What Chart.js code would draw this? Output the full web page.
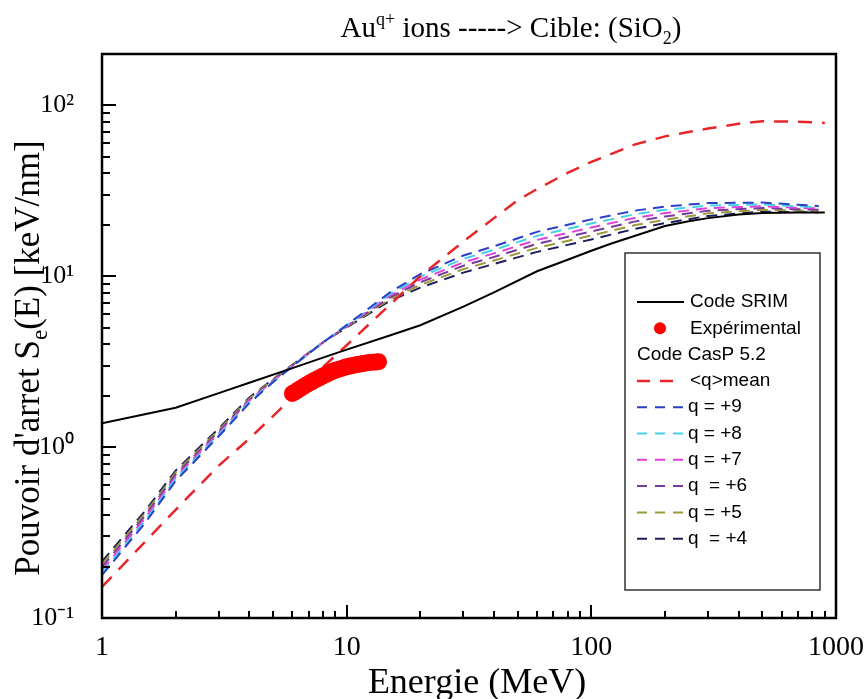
<!DOCTYPE html>
<html>
<head>
<meta charset="utf-8">
<script src="https://cdn.jsdelivr.net/npm/chart.js@4/dist/chart.umd.min.js"></script>
<style>
html,body{margin:0;padding:0;background:#fff;}
#wrap{width:868px;height:699px;position:relative;}
</style>
</head>
<body>
<div id="wrap"><canvas id="c" width="868" height="699"></canvas></div>
<script>
// ---------- DATA ----------
const xTickValues = [1, 10, 100, 1000];
const xTickLabels = ['1', '10', '100', '1000'];
const yTickValues = [0.1, 1, 10, 100];
const yTickLabels = ['10\u207B\u00B9', '10\u2070', '10\u00B9', '10\u00B2'];

const xAxisTitle = 'Energie (MeV)';
const legendHeader = 'Code CasP 5.2';

// SRIM (solid black)
const energySRIM = [1, 2, 3, 4, 6, 8, 10, 15, 20, 30, 40, 60, 80, 100, 120, 150, 200, 250, 300, 400, 500, 700, 900];
const seSRIM     = [1.38, 1.70, 2.07, 2.38, 2.90, 3.34, 3.72, 4.5, 5.17, 6.65, 8.06, 10.7, 12.5, 14.1, 15.5, 17.2, 19.7, 21.0, 21.9, 23.0, 23.5, 23.6, 23.6];

// Experimental (red dots)
const energyExp = [6.0, 6.2, 6.4, 6.6, 6.8, 7.0, 7.2, 7.4, 7.6, 7.8, 8.0, 8.2, 8.4, 8.6, 8.8, 9.0, 9.3, 9.6, 9.9, 10.2, 10.5, 10.8, 11.1, 11.4, 11.7, 12.0, 12.4, 12.8, 13.2, 13.5];
const seExp     = [2.06, 2.12, 2.18, 2.24, 2.30, 2.36, 2.41, 2.46, 2.51, 2.56, 2.61, 2.65, 2.70, 2.74, 2.78, 2.82, 2.86, 2.90, 2.94, 2.97, 3.00, 3.03, 3.05, 3.07, 3.09, 3.11, 3.13, 3.14, 3.15, 3.16];

// CasP <q>mean (red dashed)
const energyMean = [1, 2, 3, 4, 5, 6, 8, 10, 15, 20, 30, 40, 50, 60, 80, 100, 150, 200, 300, 400, 500, 700, 900];
const seMean     = [0.152, 0.43, 0.78, 1.12, 1.52, 1.95, 2.94, 3.95, 6.8, 10.0, 16.0, 21.9, 27.9, 32.4, 40.3, 46.7, 59.0, 65.9, 73.2, 78.1, 80.8, 80.3, 79.0];

// CasP fixed charge states
const energyQ = [1, 1.5, 2, 3, 4, 5, 6, 8, 10, 15, 20, 30, 40, 60, 100, 150, 200, 300, 500, 850];
const seQ9 = [0.178, 0.360, 0.634, 1.158, 1.81, 2.40, 2.97, 4.1, 5.18, 8.04, 10.29, 13.24, 14.99, 18.20, 21.53, 24.20, 25.60, 26.84, 27.00, 25.79];
const seQ8 = [0.184, 0.371, 0.652, 1.182, 1.84, 2.42, 2.98, 4.1, 5.15, 7.86, 9.93, 12.65, 14.28, 17.24, 20.38, 23.05, 24.48, 25.93, 26.34, 25.34];
const seQ7 = [0.191, 0.384, 0.670, 1.207, 1.87, 2.44, 2.99, 4.1, 5.12, 7.69, 9.57, 12.07, 13.62, 16.33, 19.31, 21.94, 23.43, 25.04, 25.71, 24.92];
const seQ6 = [0.199, 0.396, 0.690, 1.233, 1.89, 2.46, 3.01, 4.1, 5.08, 7.52, 9.23, 11.53, 12.98, 15.47, 18.29, 20.89, 22.40, 24.18, 25.10, 24.48];
const seQ5 = [0.206, 0.410, 0.709, 1.259, 1.92, 2.48, 3.02, 4.1, 5.05, 7.35, 8.90, 11.01, 12.38, 14.66, 17.33, 19.88, 21.41, 23.35, 24.49, 24.06];
const seQ4 = [0.214, 0.423, 0.729, 1.286, 1.95, 2.50, 3.03, 4.1, 5.02, 7.18, 8.58, 10.51, 11.80, 13.90, 16.43, 18.92, 20.47, 22.56, 23.90, 23.66];

// ---------- BUILD ----------
const pts = (xs, ys) => xs.map((v, i) => ({x: v, y: ys[i]}));
const SERIF = '"Liberation Serif", "Times New Roman", serif';
const SANS = '"Liberation Sans", Arial, sans-serif';

const qSeries = [
  {label: 'q = +9', data: seQ9, color: '#2b3fc8'},
  {label: 'q = +8', data: seQ8, color: '#45d2e4'},
  {label: 'q = +7', data: seQ7, color: '#e040d8'},
  {label: 'q  = +6', data: seQ6, color: '#7a3a9a'},
  {label: 'q = +5', data: seQ5, color: '#9a9a3a'},
  {label: 'q  = +4', data: seQ4, color: '#1e1e5a'}
];

const datasets = [
  {label: 'Expérimental', data: pts(energyExp, seExp), showLine: false, pointRadius: 8.5, pointBackgroundColor: '#ff0000', pointBorderWidth: 0, borderColor: '#ff0000', order: 0},
  {label: 'Code SRIM', data: pts(energySRIM, seSRIM), borderColor: '#000000', borderWidth: 2, pointRadius: 0, order: 1},
  {label: '<q>mean', data: pts(energyMean, seMean), borderColor: '#e8262a', borderWidth: 2.5, borderDash: [14, 10], pointRadius: 0, order: 2}
];
qSeries.forEach((s, i) => datasets.push({
  label: s.label, data: pts(energyQ, s.data), borderColor: s.color, borderWidth: 2,
  borderDash: [11, 7], pointRadius: 0, order: 3 + i
}));

function drawRich(ctx, pieces, x, y) {
  let total = 0;
  pieces.forEach(p => { ctx.font = p.size + 'px ' + SERIF; p.w = ctx.measureText(p.t).width; total += p.w; });
  let cx = x - total / 2;
  ctx.textAlign = 'left';
  ctx.textBaseline = 'alphabetic';
  pieces.forEach(p => { ctx.font = p.size + 'px ' + SERIF; ctx.fillText(p.t, cx, y + (p.dy || 0)); cx += p.w; });
}

const decor = {
  id: 'decor',
  beforeDraw(chart) {
    const ctx = chart.ctx;
    ctx.save(); ctx.fillStyle = '#fff'; ctx.fillRect(0, 0, chart.width, chart.height); ctx.restore();
  },
  afterDatasetsDraw(chart) {
    const {ctx, chartArea: a, scales: {x, y}} = chart;
    ctx.save();
    ctx.strokeStyle = '#000';
    // inward tick marks
    ctx.lineWidth = 2;
    for (let d = 1; d <= 1000; d *= 10) {
      for (let k = 1; k <= 9; k++) {
        const v = k * d; if (v > 1000) break;
        const px = Math.round(x.getPixelForValue(v));
        const len = k === 1 ? 13 : 7;
        ctx.beginPath(); ctx.moveTo(px, a.bottom); ctx.lineTo(px, a.bottom - len); ctx.stroke();
      }
    }
    for (let d = 0.1; d <= 100.0001; d *= 10) {
      for (let k = 1; k <= 9; k++) {
        const v = k * d; if (v > 200.001) break;
        const py = Math.round(y.getPixelForValue(v));
        const len = k === 1 ? 14 : 8;
        ctx.beginPath(); ctx.moveTo(a.left, py); ctx.lineTo(a.left + len, py); ctx.stroke();
      }
    }
    // frame
    ctx.lineWidth = 2.5;
    ctx.strokeRect(a.left, a.top, a.right - a.left, a.bottom - a.top);

    // legend box
    const bx = 625, by = 253, bw = 195, bh = 337;
    ctx.fillStyle = '#fff';
    ctx.fillRect(bx, by, bw, bh);
    ctx.lineWidth = 1.5;
    ctx.strokeStyle = '#333';
    ctx.strokeRect(bx, by, bw, bh);

    const rowY = i => 302 + i * 26.3;
    const sx0 = 637, sx1 = 684, tx = 690;
    ctx.font = '19px ' + SANS;
    ctx.textBaseline = 'middle';
    ctx.textAlign = 'left';
    ctx.fillStyle = '#000';
    const ds = chart.data.datasets;
    // row 0: SRIM
    let yy = rowY(0);
    ctx.setLineDash([]); ctx.lineWidth = 2; ctx.strokeStyle = ds[1].borderColor;
    ctx.beginPath(); ctx.moveTo(sx0, yy); ctx.lineTo(sx1, yy); ctx.stroke();
    ctx.fillText(ds[1].label, tx, yy);
    // row 1: experimental
    yy = rowY(1);
    ctx.fillStyle = ds[0].pointBackgroundColor;
    ctx.beginPath(); ctx.arc(660, yy, 6, 0, Math.PI * 2); ctx.fill();
    ctx.fillStyle = '#000';
    ctx.fillText(ds[0].label, tx, yy);
    // row 2: header
    ctx.fillText(legendHeader, sx0, rowY(2));
    // row 3: mean
    yy = rowY(3);
    ctx.strokeStyle = ds[2].borderColor; ctx.lineWidth = 2.5; ctx.setLineDash([13, 10]);
    ctx.beginPath(); ctx.moveTo(sx0, yy); ctx.lineTo(676, yy); ctx.stroke();
    ctx.fillText(ds[2].label, tx, yy);
    // q rows
    for (let i = 3; i < ds.length; i++) {
      yy = rowY(i + 1);
      ctx.strokeStyle = ds[i].borderColor; ctx.lineWidth = 2; ctx.setLineDash([10, 8]);
      ctx.beginPath(); ctx.moveTo(sx0, yy); ctx.lineTo(sx1, yy); ctx.stroke();
      ctx.fillText(ds[i].label, tx - 2, yy);
    }
    ctx.setLineDash([]);

    // chart title
    ctx.fillStyle = '#000';
    drawRich(ctx, [
      {t: 'Au', size: 29},
      {t: 'q+', size: 18, dy: -12},
      {t: ' ions -----> Cible: (SiO', size: 29},
      {t: '2', size: 18, dy: 7},
      {t: ')', size: 29}
    ], 511, 37);

    // x axis title
    drawRich(ctx, [{t: xAxisTitle, size: 36}], 477, 693);

    // y axis title (rotated)
    ctx.save();
    ctx.translate(39, 358);
    ctx.rotate(-Math.PI / 2);
    drawRich(ctx, [
      {t: "Pouvoir d'arret S", size: 35},
      {t: 'e', size: 23, dy: 8},
      {t: '(E) [keV/nm]', size: 35}
    ], 0, 0);
    ctx.restore();
    ctx.restore();
  }
};

new Chart(document.getElementById('c'), {
  type: 'line',
  data: {datasets},
  plugins: [decor],
  options: {
    responsive: false,
    animation: false,
    devicePixelRatio: 1,
    layout: {padding: {left: 0, right: 32, top: 54, bottom: 0}},
    plugins: {legend: {display: false}, title: {display: false}, tooltip: {enabled: false}},
    elements: {line: {tension: 0}},
    scales: {
      x: {
        type: 'logarithmic', min: 1, max: 1000,
        afterBuildTicks(s) { s.ticks = xTickValues.map(v => ({value: v})); },
        afterFit(s) { s.height = 81; s.paddingLeft = 0; s.paddingRight = 0; },
        ticks: {callback: (v, i) => xTickLabels[i], font: {family: SERIF, size: 28}, color: '#000', padding: 5, maxRotation: 0, autoSkip: false},
        grid: {display: false}, border: {display: false}
      },
      y: {
        type: 'logarithmic', min: 0.1, max: 200,
        afterBuildTicks(s) { s.ticks = yTickValues.map(v => ({value: v})); },
        afterFit(s) { s.width = 102; s.paddingTop = 0; s.paddingBottom = 0; },
        ticks: {callback: (v, i) => yTickLabels[i], font: {family: SERIF, size: 26}, color: '#000', padding: 20, autoSkip: false},
        grid: {display: false}, border: {display: false}
      }
    }
  }
});
</script>
</body>
</html>
